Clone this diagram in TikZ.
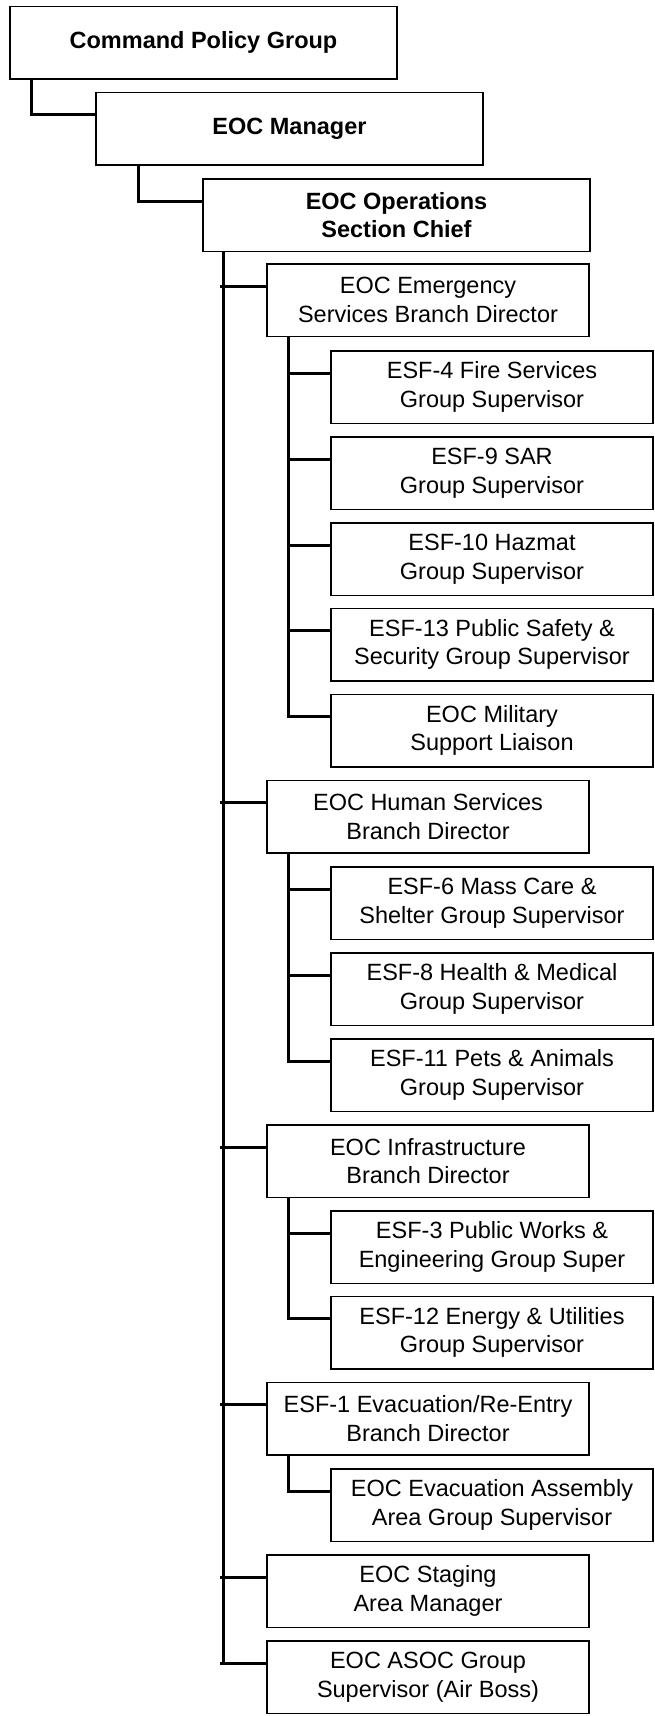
\documentclass[tikz,border=0pt]{standalone}
\usepackage{fontspec}
\setmainfont{Liberation Sans}
\begin{document}
\begin{tikzpicture}[x=1pt,y=-1pt,
  box/.style={draw, line width=1.5pt, minimum width=322pt, minimum height=72.5pt,
    inner sep=0pt, align=center, font=\fontsize{23.5}{28.5}\selectfont},
  topbox/.style={box, minimum width=387pt, font=\bfseries\fontsize{23.5}{28.5}\selectfont},
  conn/.style={line width=3pt, line join=miter}]
\useasboundingbox (0,0) rectangle (655,1716);

% top chain
\node[topbox] (cpg) at (203.5,42.5) {Command Policy Group};
\node[topbox] (mgr) at (289.5,128.5) {EOC Manager};
\node[topbox] (ops) at (396.5,215) {EOC Operations\\Section Chief};

% branches (x centre 428)
\node[box] (es)   at (428,300)    {EOC Emergency\\Services Branch Director};
\node[box] (hs)   at (428,816.5)  {EOC Human Services\\Branch Director};
\node[box] (inf)  at (428,1161)   {EOC Infrastructure\\Branch Director};
\node[box] (esfa) at (428,1418.5) {ESF-1 Evacuation/Re-Entry\\Branch Director};
\node[box] (stg)  at (428,1591)   {EOC Staging\\Area Manager};
\node[box] (asoc) at (428,1677)   {EOC ASOC Group\\Supervisor (Air Boss)};

% groups (x centre 492)
\node[box] (esfd)  at (492,387)    {ESF-4 Fire Services\\Group Supervisor};
\node[box] (esfi)  at (492,473)    {ESF-9 SAR\\Group Supervisor};
\node[box] (esfj)  at (492,559)    {ESF-10 Hazmat\\Group Supervisor};
\node[box] (esfm)  at (492,644.5)  {ESF-13 Public Safety \&\\Security Group Supervisor};
\node[box] (mil)   at (492,730.5)  {EOC Military\\Support Liaison};
\node[box] (esff)  at (492,903)    {ESF-6 Mass Care \&\\Shelter Group Supervisor};
\node[box] (esfh)  at (492,989)    {ESF-8 Health \& Medical\\Group Supervisor};
\node[box] (esfk)  at (492,1075)   {ESF-11 Pets \& Animals\\Group Supervisor};
\node[box] (esfc)  at (492,1247)   {ESF-3 Public Works \&\\Engineering Group Super};
\node[box] (esfl)  at (492,1332.5) {ESF-12 Energy \& Utilities\\Group Supervisor};
\node[box] (evac)  at (492,1505)   {EOC Evacuation Assembly\\Area Group Supervisor};

% trunk x positions
\coordinate (c1) at (31,0);
\coordinate (c2) at (138,0);
\coordinate (T)  at (223,0);
\coordinate (Tl) at (220,0);
\coordinate (S)  at (288,0);
\coordinate (Sl) at (286.5,0);

% stub points
\foreach \n in {mgr,ops,es,hs,inf,esfa,stg,asoc,esfd,esfi,esfj,esfm,mil,esff,esfh,esfk,esfc,esfl,evac}
  \coordinate (\n s) at ([yshift=14pt]\n.west);

% top connectors
\draw[conn] (cpg.south -| c1) |- (mgrs);
\draw[conn] (mgr.south -| c2) |- (opss);

% main trunk
\draw[conn] (ops.south -| T) -- (asocs -| T);
\foreach \n in {es,hs,inf,esfa,stg,asoc}
  \draw[conn] (\n s -| Tl) -- (\n s);

% sub trunks
\draw[conn] (es.south -| S) -- (mils -| S);
\draw[conn] (hs.south -| S) -- (esfks -| S);
\draw[conn] (inf.south -| S) -- (esfls -| S);
\draw[conn] (esfa.south -| S) -- (evacs -| S);
\foreach \n in {esfd,esfi,esfj,esfm,mil,esff,esfh,esfk,esfc,esfl,evac}
  \draw[conn] (\n s -| Sl) -- (\n s);
\end{tikzpicture}
\end{document}
